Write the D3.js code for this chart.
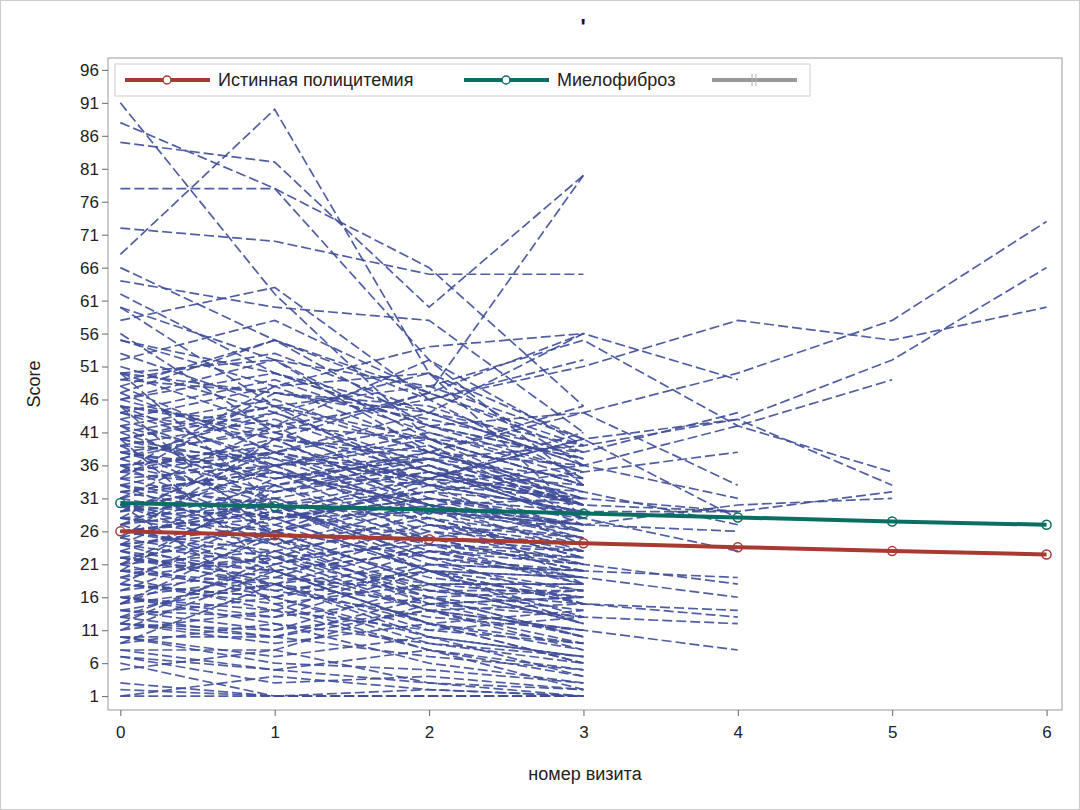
<!DOCTYPE html>
<html lang="ru">
<head>
<meta charset="UTF-8">
<title>Score by visit</title>
<script src="https://d3js.org/d3.v7.min.js"></script>
<style>
  body { margin: 0; background: #fff; font-family: 'Liberation Sans', Arial, sans-serif; }
  svg { display: block; }
</style>
</head>
<body>
<svg id="chart" width="1080" height="810"></svg>
<script>
// individual patient trajectories (Score at visit 0,1,2,...)
var patients = [
  [91,62,40,30],[88,78,66,45],[85,82,60,80],[78,78,52,33],[72,70,65,65],[68,90,50,28],[66,55,47,38],[64,60,58,41],
  [62,50,44,36],[60,52,38,31],[58,63,46,52],[56,41,35,30],[55,48,50,40],[53,45,40,33],[52,58,47,80],[51,44,36,28],
  [50,42,52,39],[49,47,45,37],[48,38,33,29],[47,55,42,35],[46,40,37,31],[45,36,39,28],[44,49,41,34],[43,35,30,25],
  [42,46,38,32],[41,33,36,27],[40,44,35,30],[39,37,29,24],[38,41,33,31],[37,30,28,22],[36,39,34,26],[35,32,36,30],
  [34,36,27,23],[33,28,31,25],[32,35,29,27],[31,27,33,24],[30,33,26,21],[30,24,28,22],[29,31,25,20],[28,26,30,23],
  [27,30,22,19],[26,23,27,21],[26,29,24,18],[25,21,25,20],[24,27,20,17],[23,20,23,18],[22,25,19,16],[22,18,21,17],
  [21,23,17,14],[20,17,20,15],[19,22,16,13],[18,15,18,12],[17,20,14,11],[16,13,16,10],[15,18,12,9],[14,11,14,8],
  [13,16,10,7],[12,9,12,6],[11,14,8,5],[10,7,10,4],[9,12,6,3],[8,5,8,2],[7,3,4,2],[6,1,2,1],[5,8,3,1],[3,1,1,1],
  [2,1,1,1],[1,1,1,1],[1,4,2,1],[20,33,38,45],[25,40,47,56],[35,48,54,56],[15,26,34,40],[12,22,18,16],[45,25,15,10],
  [50,30,20,12],[40,20,12,6],[30,15,8,4],[28,40,30,18],
  [47,38,44,36],[46,52,40,33],[45,41,47,39],[44,37,34,41],[43,48,39,30],[42,36,41,35],[41,45,33,29],[40,34,38,32],
  [39,43,35,28],[38,32,37,34],[37,42,31,27],[36,31,35,33],[35,40,30,26],[34,29,34,31],[33,38,28,25],[32,28,32,30],
  [31,36,27,24],[30,26,31,28],[29,35,25,23],[28,24,30,27],[27,33,24,22],[26,22,29,26],[25,31,23,21],[24,21,27,25],
  [23,30,21,20],[22,19,26,24],[21,28,20,19],[20,18,24,23],[19,26,18,18],[18,16,23,22],[17,25,17,17],[16,14,21,20],
  [15,23,15,16],[14,13,20,19],[13,21,14,15],[12,11,18,18],[11,20,12,14],[10,10,16,17],[9,18,11,13],[8,8,15,16],
  [37,44,50,36],[34,47,43,38],[31,42,46,34],[29,38,42,37],[27,36,40,33],[24,34,37,30],[21,32,35,28],[18,29,32,26],
  [42,30,22,15],[39,28,20,13],[36,26,18,12],[33,24,16,10],[30,22,14,9],[27,20,12,8],[24,18,10,7],[21,16,9,6],
  [49,53,44,39],[46,50,42,37],[23,17,13,11],[19,14,11,9],[16,12,9,7],[13,10,7,5],[10,6,5,3],[7,5,3,2],
  [60,45,48,40,28],[55,50,42,44,33],[40,36,37,30,29],[35,38,30,27,26],[28,30,32,35,38],[24,26,22,20,19],[20,22,24,21,18],
  [18,16,20,15,14],[14,18,15,13,12],[12,10,14,11,8],[30,28,31,29,29],[45,42,40,38,44],[50,47,44,56,49],
  [33,30,34,32,27],[26,29,25,28,23],[22,20,23,19,16],[38,35,33,36,31],[16,19,17,15,13],
  [44,40,38,36,42,49],[38,34,37,39,43,33],[32,35,30,31,29,32],[26,28,29,27,30,31],[50,52,48,55,42,35],
  [40,45,38,44,50,58,73],[36,38,34,40,43,52,66],[48,55,46,51,58,55,60]
];
var visits = [0,1,2,3,4,5,6];
var yTicks = [1,6,11,16,21,26,31,36,41,46,51,56,61,66,71,76,81,86,91,96];
// model-predicted means
var meanPV = [26,25.4,24.8,24.2,23.6,23.0,22.5];
var meanMF = [30.3,29.8,29.3,28.7,28.1,27.5,27.0];

var svg = d3.select("#chart");
svg.append("rect").attr("x",0.5).attr("y",0.5).attr("width",1079).attr("height",809)
  .attr("fill","none").attr("stroke","#ccc");

var L = 108, R = 1062, T = 58, B = 710;
var x = d3.scaleLinear().domain([-0.08, 6.1]).range([L, R]);
var y = d3.scaleLinear().domain([-1.1, 97.8]).range([B, T]);

svg.append("rect").attr("x",L).attr("y",T).attr("width",R-L).attr("height",B-T)
  .attr("fill","none").attr("stroke","#999");

var line = d3.line().x((d,i) => x(i)).y(d => y(d));

var g = svg.append("g");
g.selectAll("path.pt").data(patients).enter().append("path")
  .attr("class","pt").attr("d", line)
  .attr("fill","none").attr("stroke","#3f4d98").attr("stroke-width",1.7)
  .attr("stroke-dasharray","10,4").attr("opacity",0.9);

function meanLine(vals, col) {
  g.append("path").datum(vals).attr("d", line).attr("fill","none")
    .attr("stroke", col).attr("stroke-width", 4);
  g.selectAll(null).data(vals).enter().append("circle")
    .attr("cx",(d,i)=>x(i)).attr("cy",d=>y(d)).attr("r",4.5)
    .attr("fill","none").attr("stroke",col).attr("stroke-width",1.5);
}
meanLine(meanMF, "#0a6f62");
meanLine(meanPV, "#a83a32");

// axes
var xa = svg.append("g").attr("transform","translate(0,"+B+")")
  .call(d3.axisBottom(x).tickValues(visits).tickFormat(d3.format("d")).tickSize(6).tickSizeOuter(0));
var ya = svg.append("g").attr("transform","translate("+L+",0)")
  .call(d3.axisLeft(y).tickValues(yTicks).tickSize(6).tickSizeOuter(0));
[xa, ya].forEach(a => {
  a.select(".domain").remove();
  a.selectAll("line").attr("stroke","#666");
  a.selectAll("text").attr("font-size",17).attr("fill","#222").attr("font-family","'Liberation Sans', Arial");
});
xa.selectAll("text").attr("dy","1.1em");

svg.append("text").attr("x",(L+R)/2).attr("y",780).attr("text-anchor","middle")
  .attr("font-size",18).attr("fill","#222").text("номер визита");
svg.append("text").attr("transform","translate(40,"+((T+B)/2)+") rotate(-90)")
  .attr("text-anchor","middle").attr("font-size",18).attr("fill","#222").text("Score");
svg.append("text").attr("x",583).attr("y",34).attr("text-anchor","middle")
  .attr("font-size",22).attr("font-weight","bold").attr("fill","#111").text("'");

// legend
var lg = svg.append("g");
lg.append("rect").attr("x",115).attr("y",64).attr("width",695).attr("height",32)
  .attr("fill","#fff").attr("stroke","#ccc");
var items = [
  {x:125, col:"#a83a32", label:"Истинная полицитемия", mark:"o"},
  {x:464, col:"#0a6f62", label:"Миелофиброз", mark:"o"},
  {x:712, col:"#999", label:"", mark:"|"}
];
items.forEach(it => {
  lg.append("line").attr("x1",it.x).attr("x2",it.x+85).attr("y1",80).attr("y2",80)
    .attr("stroke",it.col).attr("stroke-width",4);
  if (it.mark === "o") {
    lg.append("circle").attr("cx",it.x+42).attr("cy",80).attr("r",4)
      .attr("fill","#fff").attr("stroke",it.col).attr("stroke-width",1.5);
  } else {
    [40,44].forEach(o => lg.append("line").attr("x1",it.x+o).attr("x2",it.x+o)
      .attr("y1",74).attr("y2",86).attr("stroke","#bbb").attr("stroke-width",1.2));
  }
  lg.append("text").attr("x",it.x+93).attr("y",86).attr("font-size",18)
    .attr("fill","#222").text(it.label);
});
</script>
</body>
</html>
